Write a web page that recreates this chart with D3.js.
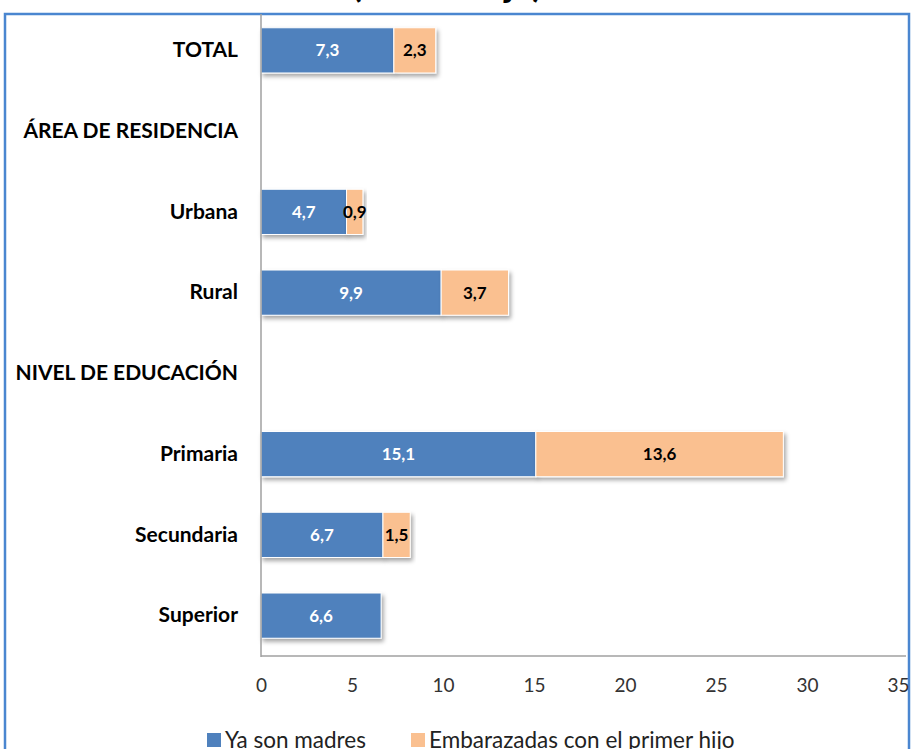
<!DOCTYPE html>
<html>
<head>
  <meta charset="utf-8">
  <title>Madres adolescentes</title>
  <script src="https://d3js.org/d3.v7.min.js"></script>
  <style>
    body { margin: 0; background: #fff; }
    svg { display: block; font-family: Lato, "Open Sans", sans-serif; }
  </style>
</head>
<body>
  <svg id="chart"></svg>
  <script>

    // categories (top to bottom) and the two series, null = no bar
    const categories = ["TOTAL", "ÁREA DE RESIDENCIA", "Urbana", "Rural", "NIVEL DE EDUCACIÓN", "Primaria", "Secundaria", "Superior"];
    const madres = [7.3, null, 4.7, 9.9, null, 15.1, 6.7, 6.6];
    const embarazadas = [2.3, null, 0.9, 3.7, null, 13.6, 1.5, null];
    const seriesNames = ["Ya son madres", "Embarazadas con el primer hijo"];
    const seriesColors = ["#4F81BD", "#FAC090"];
    const labelColors = ["#fff", "#000"];
    const xTicks = [0, 5, 10, 15, 20, 25, 30, 35];
    const titleText = "(Porcentaje)";

    const width = 912, height = 749;
    const margin = { top: 10, right: 14, bottom: 93, left: 261 };

    const svg = d3.select("#chart")
      .attr("width", width)
      .attr("height", height);

    // drop shadow like the office chart
    const defs = svg.append("defs");
    const f = defs.append("filter").attr("id", "shadow")
      .attr("x", "-10%").attr("y", "-20%").attr("width", "130%").attr("height", "160%");
    f.append("feDropShadow")
      .attr("dx", 2).attr("dy", 3).attr("stdDeviation", 2)
      .attr("flood-color", "#000").attr("flood-opacity", 0.35);

    // outer frame (blue border)
    svg.append("rect")
      .attr("x", 5).attr("y", 14)
      .attr("width", 904).attr("height", 760)
      .attr("fill", "none")
      .attr("stroke", "#4A86D0")
      .attr("stroke-width", 2.5);

    // title, mostly cut off above the picture
    svg.append("text")
      .attr("x", 447).attr("y", -3)
      .attr("text-anchor", "middle")
      .attr("font-size", 36)
      .attr("font-weight", "bold")
      .text(titleText);

    const x = d3.scaleLinear()
      .domain([0, 35])
      .range([margin.left, 898]);

    const y = d3.scaleBand()
      .domain(categories)
      .range([margin.top, height - margin.bottom])
      .paddingInner(0.44)
      .paddingOuter(0.22);

    // table for stacking
    const table = categories.map((c, i) => ({
      cat: c,
      a: madres[i] || 0,
      b: embarazadas[i] || 0,
      va: madres[i],
      vb: embarazadas[i]
    }));
    const stacked = d3.stack().keys(["a", "b"])(table);

    // bars
    stacked.forEach((layer, k) => {
      const g = svg.append("g");
      g.selectAll("rect")
        .data(layer.filter(d => (k == 0 ? d.data.va : d.data.vb) != null))
        .join("rect")
        .attr("x", d => x(d[0]))
        .attr("y", d => y(d.data.cat))
        .attr("width", d => x(d[1]) - x(d[0]))
        .attr("height", y.bandwidth())
        .attr("fill", seriesColors[k])
        .attr("stroke", "#fff")
        .attr("stroke-width", 1)
        .attr("filter", "url(#shadow)");
    });

    // value labels
    stacked.forEach((layer, k) => {
      svg.append("g").selectAll("text")
        .data(layer.filter(d => (k == 0 ? d.data.va : d.data.vb) != null))
        .join("text")
        .attr("x", d => x((d[0] + d[1]) / 2))
        .attr("y", d => y(d.data.cat) + y.bandwidth() / 2)
        .attr("dy", "0.35em")
        .attr("text-anchor", "middle")
        .attr("font-size", 17)
        .attr("font-weight", "bold")
        .attr("fill", labelColors[k])
        .text(d => d3.format(".1f")(k == 0 ? d.data.va : d.data.vb).replace(".", ","));
    });

    // y axis with category names
    const yAxis = svg.append("g")
      .attr("transform", `translate(${margin.left},0)`)
      .call(d3.axisLeft(y).tickSize(0).tickPadding(23));
    yAxis.select(".domain").remove();
    yAxis.selectAll("text")
      .attr("font-family", "Lato, sans-serif")
      .attr("font-size", 21)
      .attr("font-weight", "bold")
      .attr("fill", "#000");

    svg.append("line")
      .attr("x1", margin.left).attr("x2", margin.left)
      .attr("y1", 14).attr("y2", height - margin.bottom + 1)
      .attr("stroke", "#a0a0a0").attr("stroke-width", 1.5);

    // x axis
    const xAxis = svg.append("g")
      .attr("transform", `translate(0,${height - margin.bottom})`)
      .call(d3.axisBottom(x).tickValues(xTicks).tickSize(0).tickPadding(23));
    xAxis.select(".domain").remove();
    xAxis.selectAll("text")
      .attr("font-family", "Lato, sans-serif")
      .attr("font-size", 19)
      .attr("fill", "#333");

    svg.append("line")
      .attr("x1", margin.left).attr("x2", 906)
      .attr("y1", height - margin.bottom).attr("y2", height - margin.bottom)
      .attr("stroke", "#a0a0a0").attr("stroke-width", 1.5);

    // legend
    const legendX = [207, 411];
    const legend = svg.append("g");
    seriesNames.forEach((name, i) => {
      legend.append("rect")
        .attr("x", legendX[i]).attr("y", 733)
        .attr("width", 14).attr("height", 14)
        .attr("fill", seriesColors[i]);
      legend.append("text")
        .attr("x", legendX[i] + 18).attr("y", 748)
        .attr("font-size", 22.5)
        .attr("fill", "#222")
        .text(name);
    });

  </script>
</body>
</html>
